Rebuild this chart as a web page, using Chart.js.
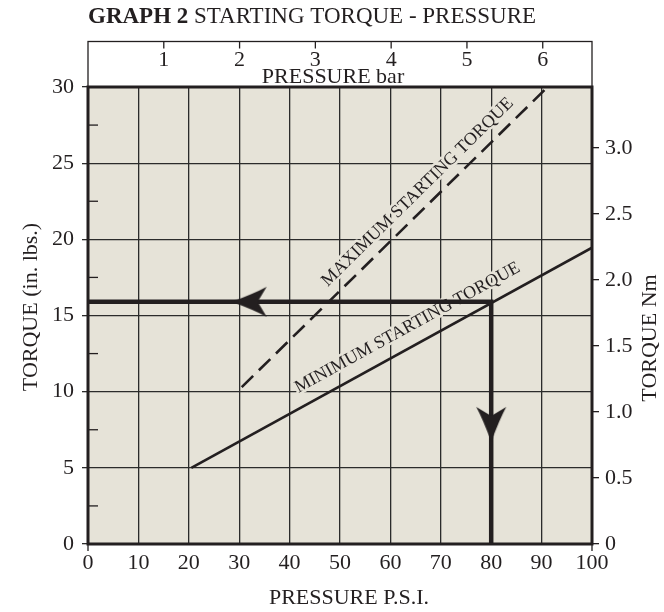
<!DOCTYPE html>
<html>
<head>
<meta charset="utf-8">
<title>Starting torque - pressure</title>
<script src="https://cdn.jsdelivr.net/npm/chart.js@4.4.0/dist/chart.umd.min.js"></script>
<style>
  body { margin: 0; background: #fff; }
  canvas { display: block; }
</style>
</head>
<body>
<canvas id="torqueChart" width="664" height="612"></canvas>
<script>
// values
var barTicks = [1, 2, 3, 4, 5, 6];
var nmTicks = [0, 0.5, 1.0, 1.5, 2.0, 2.5, 3.0];
var minorTorque = [2.5, 7.5, 12.5, 17.5, 22.5, 27.5];

var minPsi = [20.5, 100];
var minTorque = [5.0, 19.45];

var maxPsi = [30.5, 91.2];
var maxTorque = [10.3, 30];

// worked example: 80 psi -> 15.9 in.lbs
var examplePsi = [0, 80, 80];
var exampleTorque = [15.9, 15.9, 0];
var arrowPsi = [28.5, 80];
var arrowTorque = [15.9, 6.7];

var ink = '#231f20';
var paper = '#e6e3d8';
var serif = '"Liberation Serif", "Times New Roman", serif';

function points(xs, ys) {
  var out = [];
  for (var i = 0; i < xs.length; i++) out.push({ x: xs[i], y: ys[i] });
  return out;
}

// barbed arrow head, tip at the centre of the little canvas
function makeArrow(dir) {
  var c = document.createElement('canvas');
  c.width = 76; c.height = 76;
  var g = c.getContext('2d');
  g.translate(38, 38);
  if (dir === 'down') g.rotate(-Math.PI / 2);
  g.fillStyle = ink;
  g.beginPath();
  g.moveTo(0, 0);
  g.quadraticCurveTo(22, -8, 35, -15);
  g.lineTo(26, 0);
  g.lineTo(35, 15);
  g.quadraticCurveTo(22, 8, 0, 0);
  g.closePath();
  g.fill();
  return c;
}

Chart.defaults.font.family = serif;
Chart.defaults.color = ink;

var lineLabels = [
  { text: 'MAXIMUM STARTING TORQUE', x: 65.4, y: 23.1, along: 2, size: 18 },
  { text: 'MINIMUM STARTING TORQUE', x: 63.4, y: 14.2, along: 3, size: 18 }
];

var torquePlugin = {
  id: 'torquePlugin',
  beforeDraw: function (chart) {
    var a = chart.chartArea, ctx = chart.ctx;
    ctx.save();
    ctx.fillStyle = paper;
    ctx.fillRect(a.left, a.top, a.right - a.left, a.bottom - a.top);
    ctx.restore();
  },
  beforeDatasetsDraw: function (chart) {
    var ctx = chart.ctx, xs = chart.scales.x, ys = chart.scales.y;
    lineLabels.forEach(function (l) {
      var d = chart.data.datasets[l.along].data;
      var p0x = xs.getPixelForValue(d[0].x), p0y = ys.getPixelForValue(d[0].y);
      var p1x = xs.getPixelForValue(d[1].x), p1y = ys.getPixelForValue(d[1].y);
      var ang = Math.atan2(p1y - p0y, p1x - p0x);
      ctx.save();
      ctx.translate(xs.getPixelForValue(l.x), ys.getPixelForValue(l.y));
      ctx.rotate(ang);
      ctx.font = l.size + 'px ' + serif;
      ctx.textAlign = 'center';
      ctx.textBaseline = 'middle';
      ctx.lineWidth = 5;
      ctx.strokeStyle = paper;
      ctx.lineJoin = 'round';
      ctx.strokeText(l.text, 0, 0);
      ctx.fillStyle = ink;
      ctx.fillText(l.text, 0, 0);
      ctx.restore();
    });
  },
  afterDraw: function (chart) {
    var ctx = chart.ctx, a = chart.chartArea;
    var ys = chart.scales.y, x2 = chart.scales.x2;
    var boxTop = 41.5;
    ctx.save();
    ctx.strokeStyle = ink;
    ctx.fillStyle = ink;

    // top box for the bar scale
    ctx.lineWidth = 1.3;
    ctx.strokeRect(a.left, boxTop, a.right - a.left, a.top - boxTop);
    ctx.font = '22px ' + serif;
    ctx.textAlign = 'center';
    ctx.textBaseline = 'middle';
    barTicks.forEach(function (b) {
      var px = x2.getPixelForValue(b);
      ctx.beginPath();
      ctx.moveTo(px, boxTop);
      ctx.lineTo(px, boxTop + 7);
      ctx.stroke();
      ctx.fillText(String(b), px, 60);
    });
    ctx.fillText('PRESSURE bar', 333, 77);

    // minor ticks inside the left axis
    ctx.lineWidth = 1.3;
    minorTorque.forEach(function (t) {
      var py = ys.getPixelForValue(t);
      ctx.beginPath();
      ctx.moveTo(a.left, py);
      ctx.lineTo(a.left + 10, py);
      ctx.stroke();
    });

    // heavy frame round the plot
    ctx.lineWidth = 3;
    ctx.strokeRect(a.left, a.top, a.right - a.left, a.bottom - a.top);
    ctx.lineWidth = 1.3;
    ctx.beginPath();
    ctx.moveTo(a.left, a.bottom); ctx.lineTo(a.left, a.bottom + 7);
    ctx.moveTo(a.right, a.bottom); ctx.lineTo(a.right, a.bottom + 7);
    ctx.stroke();

    // axis titles
    ctx.font = '22px ' + serif;
    ctx.fillText('PRESSURE P.S.I.', 349, 598);
    ctx.save();
    ctx.translate(31, 307);
    ctx.rotate(-Math.PI / 2);
    ctx.fillText('TORQUE (in. lbs.)', 0, 0);
    ctx.restore();
    ctx.save();
    ctx.translate(650, 338);
    ctx.rotate(-Math.PI / 2);
    ctx.fillText('TORQUE Nm', 0, 0);
    ctx.restore();

    // title
    ctx.textAlign = 'left';
    ctx.font = 'bold 23px ' + serif;
    ctx.fillText('GRAPH 2', 88, 17);
    var w = ctx.measureText('GRAPH 2 ').width;
    ctx.font = '23px ' + serif;
    ctx.fillText('STARTING TORQUE - PRESSURE', 88 + w, 17);
    ctx.restore();
  }
};

var ctx = document.getElementById('torqueChart').getContext('2d');
var chart = new Chart(ctx, {
  type: 'scatter',
  data: {
    datasets: [
      {
        label: 'arrows',
        data: points(arrowPsi, arrowTorque),
        pointStyle: [makeArrow('left'), makeArrow('down')],
        showLine: false,
        clip: false
      },
      {
        label: 'example',
        data: points(examplePsi, exampleTorque),
        showLine: true,
        borderColor: ink,
        borderWidth: 4.5,
        borderJoinStyle: 'miter',
        borderCapStyle: 'butt',
        pointRadius: 0
      },
      {
        label: 'Maximum starting torque',
        data: points(maxPsi, maxTorque),
        showLine: true,
        borderColor: ink,
        borderWidth: 2.6,
        borderDash: [16, 8],
        pointRadius: 0
      },
      {
        label: 'Minimum starting torque',
        data: points(minPsi, minTorque),
        showLine: true,
        borderColor: ink,
        borderWidth: 2.6,
        pointRadius: 0
      }
    ]
  },
  options: {
    responsive: false,
    animation: false,
    events: [],
    layout: { padding: { top: 87, left: 0, right: 0, bottom: 0 } },
    plugins: {
      legend: { display: false },
      tooltip: { enabled: false },
      title: { display: false }
    },
    scales: {
      x: {
        type: 'linear',
        position: 'bottom',
        min: 0,
        max: 100,
        ticks: { stepSize: 10, padding: 6, font: { size: 22 }, color: ink },
        grid: { color: '#2b2b2b', lineWidth: 1.3, drawTicks: false },
        border: { display: false },
        afterFit: function (s) { s.height = 68; }
      },
      x2: {
        type: 'linear',
        position: 'top',
        min: 0,
        max: 6.65,
        display: false
      },
      y: {
        type: 'linear',
        position: 'left',
        min: 0,
        max: 30,
        ticks: { stepSize: 5, padding: 8, font: { size: 22 }, color: ink },
        grid: { color: '#2b2b2b', lineWidth: 1.3, tickLength: 6 },
        border: { display: false },
        afterFit: function (s) { s.width = 88; }
      },
      y2: {
        type: 'linear',
        position: 'right',
        min: 0,
        max: 3.46,
        afterBuildTicks: function (s) {
          s.ticks = nmTicks.map(function (v) { return { value: v }; });
        },
        ticks: {
          padding: 6,
          font: { size: 22 },
          color: ink,
          callback: function (v) { return v === 0 ? '0' : v.toFixed(1); }
        },
        grid: { drawOnChartArea: false, color: ink, lineWidth: 1.3, tickLength: 7 },
        border: { display: false },
        afterFit: function (s) { s.width = 72; }
      }
    }
  },
  plugins: [torquePlugin]
});
</script>
</body>
</html>
